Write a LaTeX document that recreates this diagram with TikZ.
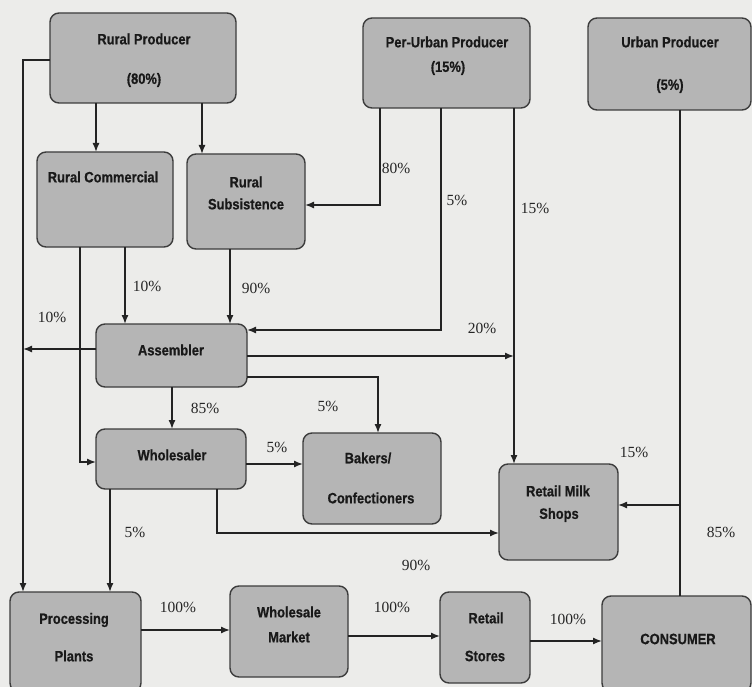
\documentclass[tikz,border=0pt]{standalone}
\usepackage{fontspec}
\setmainfont{Liberation Serif}
\newfontfamily\boxfont[FakeStretch=0.86,FakeBold=0.6]{Liberation Sans}
\usetikzlibrary{arrows.meta}
\definecolor{bgc}{RGB}{236,236,234}
\definecolor{boxc}{RGB}{181,181,181}
\definecolor{edgec}{RGB}{60,60,60}
\definecolor{linec}{RGB}{35,35,35}
\begin{document}
\begin{tikzpicture}[x=1pt,y=-1pt,
  box/.style={draw=edgec,fill=boxc,line width=1.4pt,rounded corners=9pt,inner sep=0pt,outer sep=0pt,anchor=north west},
  btxt/.style={font=\boxfont\bfseries\fontsize{15}{17}\selectfont,text=black!90,inner sep=0pt},
  pct/.style={font=\fontsize{15.5}{17}\selectfont,text=black!85,inner sep=0pt},
  ln/.style={draw=linec,line width=1.4pt},
  arr/.style={ln,-{Latex[length=9pt,width=7pt]}}]
\fill[bgc] (0,0) rectangle (752,687);
\useasboundingbox (0,0) rectangle (752,687);
% boxes
\node[box,minimum width=186pt,minimum height=90pt] (rp) at (50,13) {};
\node[box,minimum width=167pt,minimum height=90pt] (pu) at (363,18) {};
\node[box,minimum width=163pt,minimum height=92pt] (up) at (588,18) {};
\node[box,minimum width=136pt,minimum height=95pt] (rc) at (37,152) {};
\node[box,minimum width=118pt,minimum height=95pt] (rs) at (187,154) {};
\node[box,minimum width=151pt,minimum height=63pt] (as) at (96,324) {};
\node[box,minimum width=150pt,minimum height=60pt] (wh) at (96,429) {};
\node[box,minimum width=138pt,minimum height=91pt] (bk) at (303,433) {};
\node[box,minimum width=119pt,minimum height=96pt] (rm) at (499,464) {};
\node[box,minimum width=131pt,minimum height=100pt] (pp) at (10,592) {};
\node[box,minimum width=118pt,minimum height=91pt] (wm) at (230,586) {};
\node[box,minimum width=90pt,minimum height=91pt] (rst) at (440,592) {};
\node[box,minimum width=149pt,minimum height=96pt] (co) at (602,596) {};
% box texts
\node[btxt] (rpt1) at (144,39) {Rural Producer};
\node[btxt] (rpt2) at (144,80) {(80\%)};
\node[btxt] (put1) at (447,42) {Per-Urban Producer};
\node[btxt] (put2) at (448,68) {(15\%)};
\node[btxt] (upt1) at (670,42) {Urban Producer};
\node[btxt] (upt2) at (670,86) {(5\%)};
\node[btxt] (rct) at (103,177) {Rural Commercial};
\node[btxt] (rst1) at (246,182) {Rural};
\node[btxt] (rst2) at (246,204) {Subsistence};
\node[btxt] (ast) at (171,350) {Assembler};
\node[btxt] (wht) at (172,455) {Wholesaler};
\node[btxt] (bkt1) at (368,458) {Bakers/};
\node[btxt] (bkt2) at (371,498) {Confectioners};
\node[btxt] (rmt1) at (558,491) {Retail Milk};
\node[btxt] (rmt2) at (559,515) {Shops};
\node[btxt] (ppt1) at (74,620) {Processing};
\node[btxt] (ppt2) at (74,656) {Plants};
\node[btxt] (wmt1) at (289,612) {Wholesale};
\node[btxt] (wmt2) at (289,637) {Market};
\node[btxt] (rstt1) at (486,618) {Retail};
\node[btxt] (rstt2) at (485,656) {Stores};
\node[btxt] (cot) at (678,639) {CONSUMER};
% junction coordinates
\coordinate (j20) at (514,356);
\coordinate (j10) at (23,349);
\coordinate (jup) at (680,505);
% connectors
\draw[arr] (rp.west |- 0,60) -- (23,60) -- (pp.north -| 23,0);
\draw[arr] (rp.south -| 96,0) -- (rc.north -| 96,0);
\draw[arr] (rp.south -| 202,0) -- (rs.north -| 202,0);
\draw[arr] (pu.south -| 380,0) |- (rs.east |- 0,205);
\draw[arr] (pu.south -| 441,0) |- (as.east |- 0,330);
\draw[arr] (pu.south -| 514,0) -- (rm.north -| 514,0);
\draw[arr] (as.east |- j20) -- (j20);
\draw[arr] (as.east |- 0,377) -| (bk.north -| 378,0);
\draw[arr] (rc.south -| 80,0) |- (wh.west |- 0,462);
\draw[arr] (rc.south -| 125,0) -- (as.north -| 125,0);
\draw[arr] (rs.south -| 230,0) -- (as.north -| 230,0);
\draw[arr] (as.west |- j10) -- (j10);
\draw[arr] (as.south -| 172,0) -- (wh.north -| 172,0);
\draw[arr] (wh.east |- 0,464) -- (bk.west |- 0,464);
\draw[arr] (wh.south -| 217,0) |- (rm.west |- 0,533);
\draw[arr] (wh.south -| 110,0) -- (pp.north -| 110,0);
\draw[arr] (pp.east |- 0,630) -- (wm.west |- 0,630);
\draw[arr] (wm.east |- 0,636) -- (rst.west |- 0,636);
\draw[arr] (rst.east |- 0,641) -- (co.west |- 0,641);
\draw[ln] (up.south -| jup) -- (co.north -| jup);
\draw[arr] (jup) -- (rm.east |- jup);
% percentage labels
\node[pct] (l80) at (396,168) {80\%};
\node[pct] (l5a) at (457,200) {5\%};
\node[pct] (l15a) at (535,208) {15\%};
\node[pct] (l10a) at (147,286) {10\%};
\node[pct] (l90a) at (256,288) {90\%};
\node[pct] (l10b) at (52,317) {10\%};
\node[pct] (l20) at (482,328) {20\%};
\node[pct] (l85a) at (205,408) {85\%};
\node[pct] (l5b) at (328,406) {5\%};
\node[pct] (l5c) at (277,447) {5\%};
\node[pct] (l15b) at (634,452) {15\%};
\node[pct] (l5d) at (135,532) {5\%};
\node[pct] (l85b) at (721,532) {85\%};
\node[pct] (l90b) at (416,565) {90\%};
\node[pct] (l100a) at (178,607) {100\%};
\node[pct] (l100b) at (392,607) {100\%};
\node[pct] (l100c) at (568,619) {100\%};
\end{tikzpicture}
\end{document}
